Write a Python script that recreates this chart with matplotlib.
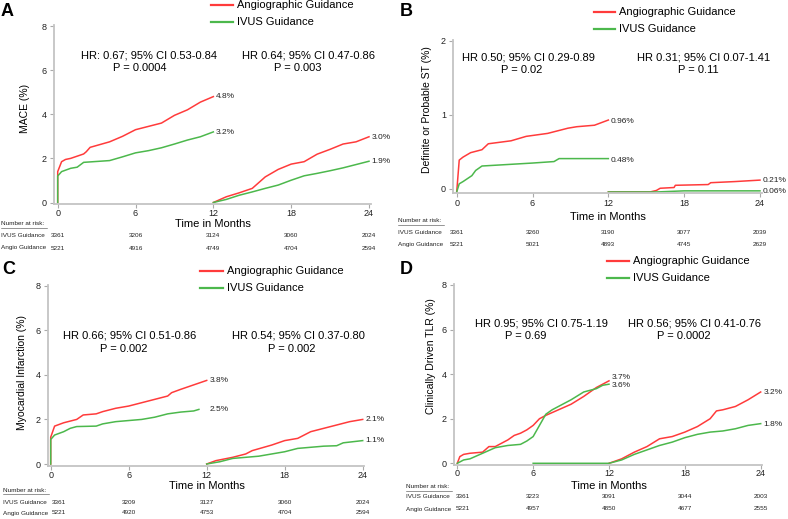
import matplotlib
matplotlib.use("Agg")
import matplotlib.pyplot as plt
from matplotlib.lines import Line2D
from matplotlib.transforms import blended_transform_factory

plt.rcParams['font.family'] = ['Liberation Sans', 'DejaVu Sans']

W, H = 788, 519
RED = '#ff3b3b'
GREEN = '#4cb84c'

months = [0, 6, 12, 18, 24]

# ---- Panel A: MACE
a_red1_t = [0, 0, 0.3, 0.6, 1, 2, 2.2, 2.5, 4, 5, 6, 7, 8, 9, 10, 11, 12]
a_red1_y = [0, 1.4, 1.85, 1.95, 2.0, 2.2, 2.3, 2.5, 2.75, 3.0, 3.3, 3.45, 3.6, 3.95, 4.2, 4.55, 4.8]
a_grn1_t = [0, 0, 0.3, 1, 1.5, 2, 4, 5, 6, 7, 8, 9, 10, 11, 12]
a_grn1_y = [0, 1.2, 1.4, 1.55, 1.6, 1.82, 1.9, 2.07, 2.25, 2.35, 2.48, 2.65, 2.83, 2.98, 3.2]
a_red2_t = [12, 13, 14, 15, 16, 17, 18, 19, 20, 21, 22, 23, 24]
a_red2_y = [0, 0.26, 0.44, 0.64, 1.16, 1.5, 1.74, 1.85, 2.19, 2.41, 2.65, 2.75, 2.98]
a_grn2_t = [12, 13, 14, 15, 16, 17, 18, 19, 20, 21, 22, 23, 24]
a_grn2_y = [0, 0.14, 0.33, 0.48, 0.64, 0.79, 1.01, 1.21, 1.32, 1.44, 1.57, 1.72, 1.87]
a_ivus_risk = [3361, 3206, 3124, 3060, 2024]
a_angio_risk = [5221, 4916, 4749, 4704, 2594]

# ---- Panel B: Definite or probable ST
b_red1_t = [0, 0.2, 0.5, 1.1, 2.0, 2.5, 4.3, 5.5, 7.2, 8.8, 9.5, 10.9, 12]
b_red1_y = [-0.04, 0.39, 0.43, 0.49, 0.53, 0.61, 0.65, 0.71, 0.75, 0.82, 0.84, 0.86, 0.93]
b_grn1_t = [0, 0.2, 0.5, 1.2, 1.5, 2, 4, 6, 7.7, 8.1, 12]
b_grn1_y = [-0.04, 0.07, 0.1, 0.18, 0.25, 0.31, 0.33, 0.35, 0.37, 0.41, 0.41]
b_red2_t = [12, 15.3, 15.8, 16.1, 17.2, 17.3, 19.9, 20.1, 22, 24]
b_red2_y = [-0.04, -0.04, -0.02, 0.01, 0.02, 0.05, 0.06, 0.085, 0.1, 0.12]
b_grn2_t = [12, 15.8, 18, 24]
b_grn2_y = [-0.04, -0.04, -0.025, -0.025]
b_ivus_risk = [3361, 3260, 3190, 3077, 2039]
b_angio_risk = [5221, 5021, 4893, 4745, 2629]

# ---- Panel C: Myocardial infarction
c_red1_t = [0, 0, 0.3, 1, 2, 2.5, 3.5, 4, 5, 6, 7, 8, 9, 9.3, 10, 11, 12]
c_red1_y = [0, 1.2, 1.7, 1.85, 2.0, 2.2, 2.25, 2.35, 2.5, 2.6, 2.75, 2.9, 3.05, 3.2, 3.35, 3.55, 3.75]
c_grn1_t = [0, 0, 0.3, 1, 1.5, 2, 3.5, 4, 5, 6, 7, 8, 9, 10, 11, 11.4]
c_grn1_y = [0, 1.1, 1.3, 1.45, 1.6, 1.68, 1.7, 1.8, 1.9, 1.95, 2.0, 2.1, 2.25, 2.33, 2.38, 2.45]
c_red2_t = [12, 12.7, 14, 15, 15.5, 17, 18, 19, 20, 21, 22, 23, 24]
c_red2_y = [0, 0.15, 0.3, 0.45, 0.6, 0.85, 1.05, 1.15, 1.45, 1.6, 1.75, 1.9, 2.0]
c_grn2_t = [12, 13, 14, 15, 16, 17, 18, 19, 20, 21, 22, 22.5, 24]
c_grn2_y = [0, 0.1, 0.25, 0.3, 0.35, 0.45, 0.55, 0.7, 0.75, 0.8, 0.82, 0.95, 1.05]
c_ivus_risk = [3361, 3209, 3127, 3060, 2024]
c_angio_risk = [5221, 4920, 4753, 4704, 2594]

# ---- Panel D: Clinically driven TLR
d_red1_t = [0, 0.2, 0.5, 1, 2, 2.5, 3, 3.5, 4, 4.5, 5, 5.5, 6, 6.5, 7, 8, 9, 10, 11, 12]
d_red1_y = [0, 0.3, 0.4, 0.45, 0.5, 0.75, 0.75, 0.9, 1.05, 1.25, 1.35, 1.5, 1.7, 2.0, 2.15, 2.4, 2.65, 3.0, 3.4, 3.7]
d_grn1_t = [0, 0.5, 1, 2, 3, 4, 5, 5.5, 6, 6.5, 7, 7.5, 8, 9, 10, 11, 11.5, 12]
d_grn1_y = [0, 0.15, 0.2, 0.45, 0.7, 0.8, 0.85, 1.0, 1.2, 1.7, 2.2, 2.4, 2.55, 2.85, 3.2, 3.35, 3.5, 3.55]
d_red2_t = [12, 13, 14, 15, 16, 17, 18, 19, 20, 20.5, 21, 22, 23, 24]
d_red2_y = [0, 0.2, 0.5, 0.75, 1.1, 1.2, 1.4, 1.65, 2.0, 2.35, 2.4, 2.55, 2.85, 3.2]
d_grn2_t = [6, 12, 13, 14, 15, 16, 17, 18, 19, 20, 21, 22, 23, 24]
d_grn2_y = [0, 0, 0.15, 0.4, 0.6, 0.8, 0.95, 1.15, 1.3, 1.4, 1.45, 1.55, 1.7, 1.78]
d_ivus_risk = [3361, 3223, 3091, 3044, 2003]
d_angio_risk = [5221, 4957, 4850, 4677, 2555]

panels = [
    dict(letter='A', ylabel='MACE (%)', ytop=8, yticks=[0, 2, 4, 6, 8],
         cal=(57.7, 369, 202.5, 26), box=(54, 25, 371, 204),
         curves=[(a_red1_t, a_red1_y, RED), (a_grn1_t, a_grn1_y, GREEN),
                 (a_red2_t, a_red2_y, RED), (a_grn2_t, a_grn2_y, GREEN)],
         ends=[('4.8%', 12.2, 4.8), ('3.2%', 12.2, 3.16), ('3.0%', 24.2, 2.93), ('1.9%', 24.2, 1.84)],
         hr=[('HR: 0.67; 95% CI 0.53-0.84', 149, 55), ('P = 0.0004', 140, 68),
             ('HR 0.64; 95% CI 0.47-0.86', 309, 55), ('P = 0.003', 298, 68)],
         ylab_xy=(25, 108), letter_xy=(1, 12), legend=(211, 233, 237, 5, 22),
         xlabel_y=224, risk=(1, 224, 236, 248), first_dx=0,
         risk_vals=(a_ivus_risk, a_angio_risk), ticky=213),
    dict(letter='B', ylabel='Definite or Probable ST (%)', ytop=2, yticks=[0, 1, 2],
         cal=(456.7, 760, 189, 40.7), box=(453, 40, 762, 192.7),
         curves=[(b_red1_t, b_red1_y, RED), (b_grn1_t, b_grn1_y, GREEN),
                 (b_red2_t, b_red2_y, RED), (b_grn2_t, b_grn2_y, GREEN)],
         ends=[('0.96%', 12.2, 0.91), ('0.48%', 12.2, 0.38), ('0.21%', 24.2, 0.11), ('0.06%', 24.2, -0.03)],
         hr=[('HR 0.50; 95% CI 0.29-0.89', 528, 57), ('P = 0.02', 522, 70),
             ('HR 0.31; 95% CI 0.07-1.41', 704, 57), ('P = 0.11', 698, 70)],
         ylab_xy=(427, 110), letter_xy=(400, 12), legend=(594, 615, 619, 12, 29),
         xlabel_y=217, risk=(398, 221, 232, 244), first_dx=0,
         risk_vals=(b_ivus_risk, b_angio_risk), ticky=203),
    dict(letter='C', ylabel='Myocardial Infarction (%)', ytop=8, yticks=[0, 2, 4, 6, 8],
         cal=(50.7, 362.7, 464, 285.7), box=(47.5, 285, 364, 465.5),
         curves=[(c_red1_t, c_red1_y, RED), (c_grn1_t, c_grn1_y, GREEN),
                 (c_red2_t, c_red2_y, RED), (c_grn2_t, c_grn2_y, GREEN)],
         ends=[('3.8%', 12.2, 3.74), ('2.5%', 12.2, 2.46), ('2.1%', 24.2, 2.0), ('1.1%', 24.2, 1.05)],
         hr=[('HR 0.66; 95% CI 0.51-0.86', 130, 336), ('P = 0.002', 124, 349),
             ('HR 0.54; 95% CI 0.37-0.80', 298, 336), ('P = 0.002', 292, 349)],
         ylab_xy=(22, 372), letter_xy=(2, 270), legend=(200, 223, 227, 271, 288),
         xlabel_y=486, risk=(3, 490, 502, 513), first_dx=8,
         risk_vals=(c_ivus_risk, c_angio_risk), ticky=475),
    dict(letter='D', ylabel='Clinically Driven TLR (%)', ytop=8, yticks=[0, 2, 4, 6, 8],
         cal=(457.3, 760.7, 463.3, 285), box=(454, 284, 762, 465),
         curves=[(d_red1_t, d_red1_y, RED), (d_grn1_t, d_grn1_y, GREEN),
                 (d_red2_t, d_red2_y, RED), (d_grn2_t, d_grn2_y, GREEN)],
         ends=[('3.7%', 12.2, 3.84), ('3.6%', 12.2, 3.47), ('3.2%', 24.2, 3.18), ('1.8%', 24.2, 1.73)],
         hr=[('HR 0.95; 95% CI 0.75-1.19', 541, 323), ('P = 0.69', 526, 336),
             ('HR 0.56; 95% CI 0.41-0.76', 694, 323), ('P = 0.0002', 684, 336)],
         ylab_xy=(431, 356), letter_xy=(400, 270), legend=(607, 629, 633, 261, 278),
         xlabel_y=486, risk=(406, 487, 497, 509), first_dx=6,
         risk_vals=(d_ivus_risk, d_angio_risk), ticky=473),
]

fig = plt.figure(figsize=(W / 100, H / 100), dpi=100)


def fx(px):
    return px / W


def fy(py):
    return 1 - py / H


for p in panels:
    px0, px24, py0, pyt = p['cal']
    left, top, right, bottom = p['box']
    sx = (px24 - px0) / 24
    sy = (py0 - pyt) / p['ytop']
    ax = fig.add_axes([fx(left), fy(bottom), (right - left) / W, (bottom - top) / H])
    ax.set_xlim(-(px0 - left) / sx, 24 + (right - px24) / sx)
    ax.set_ylim(-(bottom - py0) / sy, p['ytop'] + (pyt - top) / sy)
    ax.patch.set_alpha(0)
    for s in ['top', 'right']:
        ax.spines[s].set_visible(False)
    for s in ['left', 'bottom']:
        ax.spines[s].set_color('#c4c4c4')
        ax.spines[s].set_linewidth(1.3)
    ax.set_xticks(months)
    ax.set_yticks(p['yticks'])
    ax.tick_params(length=3, width=0.8, color='#aaaaaa', labelsize=6.5,
                   labelcolor='#222222', pad=2)
    ax.set_xticklabels([])

    for t, y, c in p['curves']:
        ax.plot(t, y, color=c, lw=1.1, solid_joinstyle='round')
    for txt, x, y in p['ends']:
        ax.text(x, y, txt, fontsize=6, color='#222222', va='center', ha='left')

    # x tick labels / risk table share x positions with the axis
    tr = blended_transform_factory(ax.transData, fig.transFigure)
    for m in months:
        ax.text(m, fy(p['ticky']), str(m), transform=tr, fontsize=6.5,
                color='#222222', ha='center', va='center')
    ax.text(12, fy(p['xlabel_y']), 'Time in Months', transform=tr,
            fontsize=8, ha='center', va='center')

    rx, ry0, ry1, ry2 = p['risk']
    fs = 4.6
    fig.text(fx(rx), fy(ry0), 'Number at risk:', fontsize=fs, color='#222222', va='center')
    fig.add_artist(Line2D([fx(rx), fx(rx + 46)], [fy(ry0 + 3.5)] * 2, lw=0.4, color='#444444'))
    fig.text(fx(rx), fy(ry1), 'IVUS Guidance', fontsize=fs, color='#222222', va='center')
    fig.text(fx(rx), fy(ry2), 'Angio Guidance', fontsize=fs, color='#222222', va='center')
    ivus, angio = p['risk_vals']
    dx = p['first_dx'] / sx
    for i, (m, v1, v2) in enumerate(zip(months, ivus, angio)):
        xm = m + dx if i == 0 else m
        ax.text(xm, fy(ry1), str(v1), transform=tr, fontsize=fs, color='#222222',
                ha='center', va='center')
        ax.text(xm, fy(ry2), str(v2), transform=tr, fontsize=fs, color='#222222',
                ha='center', va='center')

    for txt, x, y in p['hr']:
        fig.text(fx(x), fy(y), txt, fontsize=8, ha='center', va='center')

    fig.text(fx(p['ylab_xy'][0]), fy(p['ylab_xy'][1]), p['ylabel'], fontsize=7.5,
             rotation=90, ha='center', va='center')
    fig.text(fx(p['letter_xy'][0]), fy(p['letter_xy'][1]), p['letter'], fontsize=13,
             fontweight='bold', ha='left', va='center')

    lx0, lx1, tx, ly1, ly2 = p['legend']
    fig.add_artist(Line2D([fx(lx0), fx(lx1)], [fy(ly1)] * 2, lw=1.6, color=RED))
    fig.add_artist(Line2D([fx(lx0), fx(lx1)], [fy(ly2)] * 2, lw=1.6, color=GREEN))
    fig.text(fx(tx), fy(ly1), 'Angiographic Guidance', fontsize=8, va='center')
    fig.text(fx(tx), fy(ly2), 'IVUS Guidance', fontsize=8, va='center')

fig.savefig('out.png', dpi=100)
